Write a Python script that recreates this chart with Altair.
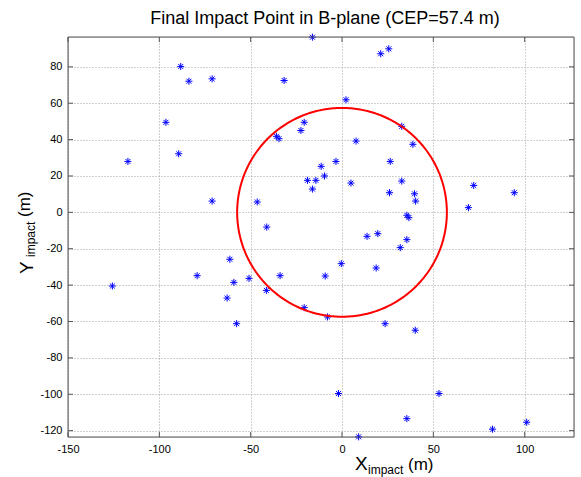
import altair as alt
import pandas as pd
import numpy as np

# impact points (m)
x_impact = [-16.2, -88.3, -83.8, -71.1, -31.7, -96.4, -20.7, -22.5, -35.9, -34.5,
            -89.4, -117.2, -11.4, -18.9, -14.3, -16.2, -71.1, -46.4, -41.2, 21.2,
            25.6, 2.2, 32.7, 38.8, 7.7, -3.3, -9.6, 4.9, 26.4, 32.7,
            26.0, 39.7, 40.3, 72.1, 94.3, 69.2, 35.5, 36.6, 13.7, 19.6,
            35.5, 31.9, -0.4, 18.7, -9.2, -20.7, -7.9, 23.6, 40.1, -1.9,
            53.1, 35.5, 9.1, 82.4, 101.1, -61.4, -79.3, -59.2, -50.9, -33.9,
            -62.9, -41.4, -57.7, -125.7]
y_impact = [96.3, 80.2, 72.1, 73.4, 72.5, 49.5, 49.5, 45.0, 41.8, 40.5,
            32.2, 28.0, 25.3, 17.6, 17.6, 12.8, 6.2, 5.7, -8.1, 87.2,
            89.9, 61.9, 47.3, 37.4, 39.2, 28.0, 20.0, 16.1, 28.0, 17.2,
            10.8, 10.2, 6.2, 14.8, 10.8, 2.6, -1.6, -2.9, -13.2, -11.7,
            -15.0, -19.4, -28.2, -30.6, -35.0, -52.4, -57.5, -61.2, -64.8, -99.6,
            -99.6, -113.4, -123.4, -119.2, -115.4, -25.8, -34.8, -38.5, -36.3, -34.8,
            -47.1, -42.9, -61.2, -40.5]
CEP = 57.4
x_ticks = [-150, -100, -50, 0, 50, 100]
y_ticks = [-120, -100, -80, -60, -40, -20, 0, 20, 40, 60, 80]

W, H = 506, 400
FONT = "Liberation Sans"

pts = pd.DataFrame({"x": x_impact, "y": y_impact})
ang = np.linspace(0, 2 * np.pi, 361)
circ = pd.DataFrame({"x": CEP * np.cos(ang), "y": CEP * np.sin(ang), "o": np.arange(361)})
xt = pd.DataFrame({"x": x_ticks})
yt = pd.DataFrame({"y": y_ticks})

xs = alt.Scale(domain=[-150, 127], nice=False, zero=False)
ys = alt.Scale(domain=[-123.5, 96.4], nice=False, zero=False)

common = dict(grid=True, gridDash=[1, 2], gridColor="#a0a0a0", gridOpacity=1,
              tickSize=0, labelPadding=6, labelFont=FONT, labelFontSize=11,
              labelColor="black", domain=False, title=None, labelFlush=False,
              labelOverlap=False, labelExpr="datum.value + ''")
xaxis = alt.Axis(values=x_ticks, **common)
yaxis = alt.Axis(values=y_ticks, **common)

star = "M-1,0L1,0M0,-1L0,1M-0.7,-0.7L0.7,0.7M-0.7,0.7L0.7,-0.7"

points = alt.Chart(pts).mark_point(shape=star, filled=False, color="#0000ff",
                                   strokeWidth=1, size=50, opacity=1).encode(
    x=alt.X("x:Q", scale=xs, axis=xaxis),
    y=alt.Y("y:Q", scale=ys, axis=yaxis),
)

circle = alt.Chart(circ).mark_line(color="#ff0000", strokeWidth=2).encode(
    x=alt.X("x:Q", scale=xs, axis=xaxis),
    y=alt.Y("y:Q", scale=ys, axis=yaxis),
    order="o:Q",
)

frame_color = "#555555"
tb = alt.Chart(xt).mark_rule(color=frame_color).encode(
    x=alt.X("x:Q", scale=xs, axis=xaxis), y=alt.value(H), y2=alt.value(H - 5))
tt = alt.Chart(xt).mark_rule(color=frame_color).encode(
    x=alt.X("x:Q", scale=xs, axis=xaxis), y=alt.value(0), y2=alt.value(5))
tl = alt.Chart(yt).mark_rule(color=frame_color).encode(
    y=alt.Y("y:Q", scale=ys, axis=yaxis), x=alt.value(0), x2=alt.value(5))
tr = alt.Chart(yt).mark_rule(color=frame_color).encode(
    y=alt.Y("y:Q", scale=ys, axis=yaxis), x=alt.value(W), x2=alt.value(W - 5))

frame = alt.Chart(pd.DataFrame({"a": [0]})).mark_rect(
    fill=None, stroke=frame_color, strokeWidth=1).encode(
    x=alt.value(0), x2=alt.value(W), y=alt.value(0), y2=alt.value(H))

def txt(s, x, y, size, angle=0):
    kw = dict(text=s, font=FONT, fontSize=size, align="left",
              baseline="alphabetic", color="black")
    if angle:
        kw["angle"] = angle
    return alt.Chart(pd.DataFrame({"a": [0]})).mark_text(**kw).encode(
        x=alt.value(x), y=alt.value(y))

title = alt.Chart(pd.DataFrame({"a": [0]})).mark_text(
    text="Final Impact Point in B-plane (CEP=57.4 m)", font=FONT, fontSize=18,
    align="center", baseline="alphabetic", color="black").encode(
    x=alt.value(257), y=alt.value(-13))

labels = [
    txt("X", 287, 433, 19),
    txt("impact", 300, 437, 12),
    txt("(m)", 340, 433, 17),
    txt("Y", -35, 237, 19, 270),
    txt("impact", -33, 220, 12, 270),
    txt("(m)", -38, 180, 17, 270),
]

chart = alt.layer(points, circle, tb, tt, tl, tr, frame, title, *labels).properties(
    width=W, height=H,
    autosize=alt.AutoSizeParams(type="none"),
    padding={"left": 68, "top": 37, "right": 7, "bottom": 40},
).configure_view(stroke=None).configure(background="white")

chart.save("out.html", embed_options={"renderer": "svg", "actions": False})
